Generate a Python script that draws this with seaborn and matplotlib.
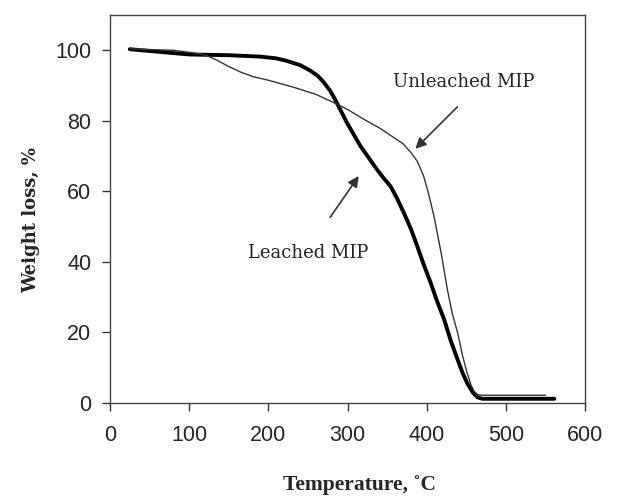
import seaborn as sns
import matplotlib.pyplot as plt
import pandas as pd

sns.set_style("ticks")
plt.rcParams['font.family'] = ['Liberation Sans', 'DejaVu Sans']

# TGA curves
leached_temp = [25, 50, 80, 101, 150, 190, 210, 223, 240, 253, 262, 270, 278, 285, 292, 299,
                308, 316, 327, 337, 346, 354, 362, 371, 380, 388, 396, 405, 413, 422, 430,
                439, 445, 451, 458, 464, 470, 561]
leached_wt = [100.3, 99.8, 99.2, 98.8, 98.6, 98.2, 97.7, 97.0, 95.8, 94.2, 92.8, 90.9, 88.5,
              85.7, 82.6, 79.5, 76.0, 72.9, 69.4, 66.2, 63.6, 61.5, 58.2, 53.9, 49.3, 44.4,
              39.3, 34.0, 28.8, 23.6, 17.8, 12.2, 8.6, 5.6, 3.0, 1.6, 1.2, 1.2]

unleached_temp = [25, 50, 80, 101, 115, 122, 135, 148, 165, 181, 200, 232, 260, 282, 300, 320,
                  340, 358, 370, 380, 388, 396, 402, 409, 418, 426, 432, 439, 445, 451, 456,
                  460, 464, 470, 550]
unleached_wt = [100.4, 100.2, 100.0, 99.4, 98.9, 98.5, 97.2, 95.6, 93.8, 92.5, 91.5, 89.5,
                87.5, 85.2, 83.2, 80.5, 78.0, 75.3, 73.5, 71.0, 68.5, 64.3, 59.5, 53.0, 42.6,
                32.1, 25.5, 19.8, 13.5, 8.4, 5.0, 3.2, 2.4, 2.2, 2.2]

df = pd.concat([
    pd.DataFrame({"temp": leached_temp, "wt": leached_wt, "sample": "Leached MIP"}),
    pd.DataFrame({"temp": unleached_temp, "wt": unleached_wt, "sample": "Unleached MIP"}),
])

fig = plt.figure(figsize=(6.18, 5), dpi=100)
ax = fig.add_axes([0.178, 0.194, 0.769, 0.776])
sns.lineplot(data=df, x="temp", y="wt", hue="sample", size="sample",
             palette={"Leached MIP": "#000000", "Unleached MIP": "#333333"},
             sizes={"Leached MIP": 2.8, "Unleached MIP": 1.0},
             sort=False, estimator=None, legend=False, ax=ax)

ax.set_xlim(0, 600)
ax.set_ylim(0, 110)
ax.set_xticks(range(0, 601, 100))
ax.set_yticks(range(0, 101, 20))
ax.tick_params(labelsize=15.5, length=6, width=1, color="#333333")
ax.tick_params(axis="x", pad=9.5)
ax.tick_params(axis="y", pad=7.5)
for s in ax.spines.values():
    s.set_visible(True)
    s.set_color("#444444")
    s.set_linewidth(1)

ax.set_xlabel("Temperature, \u02daC", family="Liberation Serif", fontweight="bold",
              fontsize=15.5)
ax.xaxis.set_label_coords(0.525, -0.186)
ax.set_ylabel("Weight loss, %", family="DejaVu Serif", fontweight="bold", fontsize=13)
ax.yaxis.set_label_coords(-0.147, 0.472)

ax.annotate("", xy=(383, 71.5), xytext=(441, 84.5),
            arrowprops=dict(arrowstyle="-|>", color="#333333", lw=1.2, mutation_scale=16))
ax.annotate("", xy=(316, 65), xytext=(276, 52),
            arrowprops=dict(arrowstyle="-|>", color="#333333", lw=1.2, mutation_scale=16))
ax.text(447, 91, "Unleached MIP", family="DejaVu Serif", fontsize=13,
        ha="center", va="center", color="#222222")
ax.text(250, 42.4, "Leached MIP", family="DejaVu Serif", fontsize=13,
        ha="center", va="center", color="#222222")

plt.savefig("out.png", dpi=100)
plt.close()
